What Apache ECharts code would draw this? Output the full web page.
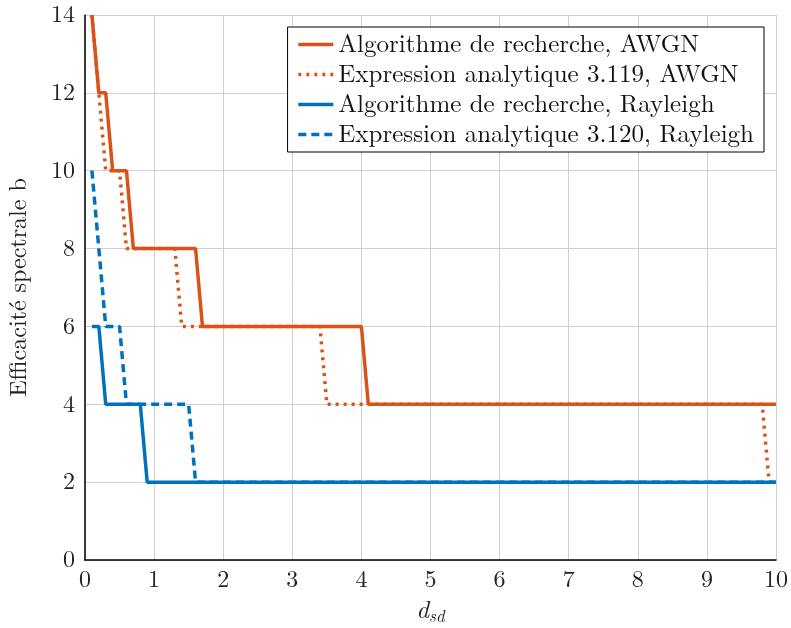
<!DOCTYPE html>
<html><head><meta charset="utf-8">
<script src="https://cdn.jsdelivr.net/npm/echarts@6/dist/echarts.min.js"></script>
<style>html,body{margin:0;padding:0;background:#fff}#c{width:791px;height:628px}</style>
</head><body><div id="c"></div>
<script>
const seriesNames = ['Algorithme de recherche, AWGN','Expression analytique 3.119, AWGN','Algorithme de recherche, Rayleigh','Expression analytique 3.120, Rayleigh'];
const awgnSearch = [[0.1,14],[0.2,12],[0.3,12],[0.4,10],[0.6,10],[0.7,8],[1.6,8],[1.7,6],[4.0,6],[4.1,4],[10,4]];
const awgnAnalytic = [[0.1,14],[0.2,12],[0.3,10],[0.5,10],[0.6,8],[1.3,8],[1.4,6],[3.4,6],[3.5,4],[9.8,4],[9.9,2],[10,2]];
const rayleighSearch = [[0.1,6],[0.2,6],[0.3,4],[0.8,4],[0.9,2],[10,2]];
const rayleighAnalytic = [[0.1,10],[0.3,6],[0.5,6],[0.6,4],[1.5,4],[1.6,2],[10,2]];
const xTicks = [0,1,2,3,4,5,6,7,8,9,10];
const yTicks = [0,2,4,6,8,10,12,14];

const FONT = '"Latin Modern Roman","CMU Serif","DejaVu Serif",serif';
const orange = '#D95319', blue = '#0072BD';
const chart = echarts.init(document.getElementById('c'));
chart.setOption({
  animation:false,
  backgroundColor:'#fff',
  grid:{left:85,right:15,top:15,bottom:68,containLabel:false,outerBoundsMode:'none'},
  legend:{
    top:27,right:27,orient:'vertical',
    backgroundColor:'#fff',borderColor:'#000',borderWidth:1,padding:[4,10,4,9],
    itemWidth:35,itemHeight:14,itemGap:3,
    itemStyle:{color:'rgba(0,0,0,0)',borderWidth:0,opacity:0},
    lineStyle:{width:3.5},
    textStyle:{fontFamily:FONT,fontSize:25,color:'#111',lineHeight:27},
    data:seriesNames
  },
  xAxis:{type:'value',min:0,max:10,interval:1,
    name:'{i|d}{s|sd}',nameLocation:'middle',nameGap:36,
    nameTextStyle:{rich:{i:{fontFamily:FONT,fontStyle:'italic',fontSize:25,color:'#222'},s:{fontFamily:FONT,fontStyle:'italic',fontSize:17,color:'#222',padding:[12,0,0,0]}}},
    axisLine:{show:true,onZero:false,lineStyle:{color:'#000',width:1.5}},
    axisTick:{show:false},
    axisLabel:{fontFamily:FONT,fontSize:24,color:'#222',margin:8,formatter:v=>xTicks.includes(v)?String(v):''},
    splitLine:{show:true,lineStyle:{color:'#cfcfcf',width:1}}
  },
  yAxis:{type:'value',min:0,max:14,interval:2,
    name:'Efficacité spectrale b',nameLocation:'middle',nameGap:54,
    nameTextStyle:{fontFamily:FONT,fontSize:24,color:'#222'},
    axisLine:{show:true,onZero:false,lineStyle:{color:'#000',width:1.5}},
    axisTick:{show:false},
    axisLabel:{fontFamily:FONT,fontSize:24,color:'#222',margin:10,formatter:v=>yTicks.includes(v)?String(v):''},
    splitLine:{show:true,lineStyle:{color:'#cfcfcf',width:1}}
  },
  series:[
    {name:seriesNames[0],type:'line',data:awgnSearch,showSymbol:false,symbol:'none',lineStyle:{color:orange,width:3.5},itemStyle:{color:orange},z:4},
    {name:seriesNames[1],type:'line',data:awgnAnalytic,showSymbol:false,symbol:'none',lineStyle:{color:orange,width:3.5,type:[3,5]},itemStyle:{color:orange},z:3},
    {name:seriesNames[2],type:'line',data:rayleighSearch,showSymbol:false,symbol:'none',lineStyle:{color:blue,width:3.5},itemStyle:{color:blue},z:4},
    {name:seriesNames[3],type:'line',data:rayleighAnalytic,showSymbol:false,symbol:'none',lineStyle:{color:blue,width:3.5,type:[8,5]},itemStyle:{color:blue},z:3}
  ]
});
</script></body></html>
